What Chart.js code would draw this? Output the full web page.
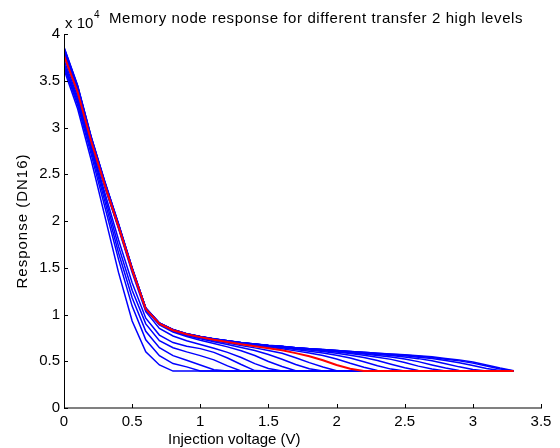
<!DOCTYPE html>
<html>
<head>
<meta charset="utf-8">
<script src="https://cdn.jsdelivr.net/npm/chart.js@4"></script>
<style>
  body { margin: 0; background: #fff; }
</style>
</head>
<body>
<canvas id="grafica" width="560" height="448"></canvas>
<script>
// injection voltage (V), same for every curve
const voltage = [0, 0.1, 0.2, 0.3, 0.4, 0.5, 0.6, 0.7, 0.8, 0.9,
  1.0, 1.1, 1.2, 1.3, 1.4, 1.5, 1.6, 1.7, 1.8, 1.9,
  2.0, 2.1, 2.2, 2.3, 2.4, 2.5, 2.6, 2.7, 2.8, 2.9,
  3.0, 3.1, 3.2, 3.3]

// response in DN16 (x 10^4), one array per transfer 2 high level
const resp01 = [3.62, 3.20, 2.65, 2.05, 1.45, 0.93, 0.60, 0.46, 0.395, 0.395,
  0.395, 0.395, 0.395, 0.395, 0.395, 0.395, 0.395, 0.395, 0.395, 0.395,
  0.395, 0.395, 0.395, 0.395, 0.395, 0.395, 0.395, 0.395, 0.395, 0.395,
  0.395, 0.395, 0.395, 0.395]
const resp02 = [3.65, 3.24, 2.71, 2.15, 1.59, 1.09, 0.73, 0.56, 0.475, 0.44,
  0.395, 0.395, 0.395, 0.395, 0.395, 0.395, 0.395, 0.395, 0.395, 0.395,
  0.395, 0.395, 0.395, 0.395, 0.395, 0.395, 0.395, 0.395, 0.395, 0.395,
  0.395, 0.395, 0.395, 0.395]
const resp03 = [3.67, 3.27, 2.75, 2.21, 1.66, 1.18, 0.82, 0.645, 0.56, 0.51,
  0.46, 0.41, 0.395, 0.395, 0.395, 0.395, 0.395, 0.395, 0.395, 0.395,
  0.395, 0.395, 0.395, 0.395, 0.395, 0.395, 0.395, 0.395, 0.395, 0.395,
  0.395, 0.395, 0.395, 0.395]
const resp04 = [3.69, 3.30, 2.78, 2.26, 1.73, 1.26, 0.90, 0.72, 0.645, 0.60,
  0.56, 0.515, 0.45, 0.395, 0.395, 0.395, 0.395, 0.395, 0.395, 0.395,
  0.395, 0.395, 0.395, 0.395, 0.395, 0.395, 0.395, 0.395, 0.395, 0.395,
  0.395, 0.395, 0.395, 0.395]
const resp05 = [3.72, 3.33, 2.80, 2.30, 1.80, 1.34, 0.96, 0.78, 0.70, 0.66,
  0.635, 0.595, 0.535, 0.465, 0.40, 0.395, 0.395, 0.395, 0.395, 0.395,
  0.395, 0.395, 0.395, 0.395, 0.395, 0.395, 0.395, 0.395, 0.395, 0.395,
  0.395, 0.395, 0.395, 0.395]
const resp06 = [3.76, 3.37, 2.83, 2.36, 1.92, 1.45, 1.03, 0.85, 0.77, 0.72,
  0.68, 0.64, 0.595, 0.54, 0.475, 0.422, 0.395, 0.395, 0.395, 0.395,
  0.395, 0.395, 0.395, 0.395, 0.395, 0.395, 0.395, 0.395, 0.395, 0.395,
  0.395, 0.395, 0.395, 0.395]
const resp07 = [3.78, 3.38, 2.84, 2.37, 1.93, 1.475, 1.049, 0.889, 0.813, 0.764,
  0.725, 0.690, 0.654, 0.612, 0.561, 0.497, 0.444, 0.399, 0.395, 0.395,
  0.395, 0.395, 0.395, 0.395, 0.395, 0.395, 0.395, 0.395, 0.395, 0.395,
  0.395, 0.395, 0.395, 0.395]
const resp08 = [3.787, 3.386, 2.847, 2.377, 1.937, 1.477, 1.056, 0.897, 0.825, 0.776,
  0.740, 0.709, 0.679, 0.648, 0.615, 0.573, 0.521, 0.465, 0.419, 0.395,
  0.395, 0.395, 0.395, 0.395, 0.395, 0.395, 0.395, 0.395, 0.395, 0.395,
  0.395, 0.395, 0.395, 0.395]
const resp09 = [3.794, 3.392, 2.852, 2.381, 1.940, 1.479, 1.057, 0.900, 0.832, 0.784,
  0.751, 0.720, 0.696, 0.668, 0.643, 0.615, 0.585, 0.538, 0.485, 0.438,
  0.399, 0.395, 0.395, 0.395, 0.395, 0.395, 0.395, 0.395, 0.395, 0.395,
  0.395, 0.395, 0.395, 0.395]
// the red one
const resp10 = [3.77, 3.38, 2.85, 2.38, 1.94, 1.48, 1.058, 0.901, 0.832, 0.788,
  0.758, 0.730, 0.706, 0.681, 0.660, 0.638, 0.617, 0.587, 0.554, 0.510,
  0.460, 0.420, 0.395, 0.395, 0.395, 0.395, 0.395, 0.395, 0.395, 0.395,
  0.395, 0.395, 0.395, 0.395]
const resp11 = [3.805, 3.401, 2.860, 2.388, 1.945, 1.482, 1.059, 0.902, 0.833, 0.789,
  0.759, 0.734, 0.712, 0.690, 0.670, 0.651, 0.634, 0.611, 0.589, 0.562,
  0.525, 0.478, 0.436, 0.401, 0.395, 0.395, 0.395, 0.395, 0.395, 0.395,
  0.395, 0.395, 0.395, 0.395]
const resp12 = [3.811, 3.407, 2.865, 2.392, 1.948, 1.485, 1.061, 0.903, 0.834, 0.789,
  0.760, 0.735, 0.715, 0.695, 0.677, 0.659, 0.644, 0.625, 0.608, 0.588,
  0.565, 0.535, 0.495, 0.452, 0.416, 0.395, 0.395, 0.395, 0.395, 0.395,
  0.395, 0.395, 0.395, 0.395]
const resp13 = [3.818, 3.413, 2.870, 2.396, 1.951, 1.487, 1.062, 0.904, 0.835, 0.790,
  0.761, 0.736, 0.716, 0.696, 0.682, 0.665, 0.652, 0.633, 0.619, 0.603,
  0.586, 0.565, 0.541, 0.508, 0.468, 0.431, 0.401, 0.395, 0.395, 0.395,
  0.395, 0.395, 0.395, 0.395]
const resp14 = [3.825, 3.419, 2.875, 2.400, 1.954, 1.489, 1.063, 0.905, 0.836, 0.791,
  0.761, 0.737, 0.717, 0.697, 0.682, 0.667, 0.657, 0.640, 0.627, 0.613,
  0.599, 0.583, 0.565, 0.544, 0.520, 0.486, 0.448, 0.416, 0.395, 0.395,
  0.395, 0.395, 0.395, 0.395]
const resp15 = [3.832, 3.426, 2.880, 2.404, 1.957, 1.491, 1.065, 0.906, 0.836, 0.792,
  0.762, 0.737, 0.717, 0.698, 0.683, 0.668, 0.658, 0.643, 0.631, 0.619,
  0.606, 0.592, 0.577, 0.561, 0.546, 0.525, 0.496, 0.460, 0.427, 0.401,
  0.395, 0.395, 0.395, 0.395]
const resp16 = [3.839, 3.432, 2.885, 2.408, 1.961, 1.493, 1.066, 0.907, 0.837, 0.793,
  0.763, 0.738, 0.718, 0.698, 0.683, 0.668, 0.658, 0.644, 0.634, 0.624,
  0.612, 0.600, 0.586, 0.573, 0.561, 0.546, 0.528, 0.506, 0.474, 0.440,
  0.413, 0.395, 0.395, 0.395]
const resp17 = [3.846, 3.438, 2.890, 2.412, 1.964, 1.496, 1.067, 0.908, 0.838, 0.793,
  0.764, 0.739, 0.719, 0.699, 0.684, 0.669, 0.659, 0.644, 0.634, 0.624,
  0.614, 0.604, 0.592, 0.580, 0.570, 0.559, 0.544, 0.529, 0.508, 0.485,
  0.455, 0.422, 0.402, 0.395]
const resp18 = [3.853, 3.444, 2.895, 2.416, 1.967, 1.498, 1.069, 0.909, 0.839, 0.794,
  0.764, 0.739, 0.719, 0.699, 0.684, 0.669, 0.659, 0.645, 0.635, 0.625,
  0.615, 0.605, 0.595, 0.585, 0.576, 0.566, 0.553, 0.541, 0.522, 0.504,
  0.480, 0.449, 0.418, 0.397]
const resp19 = [3.860, 3.450, 2.900, 2.420, 1.970, 1.500, 1.070, 0.910, 0.840, 0.795,
  0.765, 0.740, 0.720, 0.700, 0.685, 0.670, 0.660, 0.645, 0.635, 0.625,
  0.615, 0.605, 0.595, 0.585, 0.578, 0.570, 0.558, 0.547, 0.529, 0.513,
  0.491, 0.460, 0.427, 0.399]

// tick labels
const xTicks = [0, 0.5, 1, 1.5, 2, 2.5, 3, 3.5]
const yTicks = [0, 0.5, 1, 1.5, 2, 2.5, 3, 3.5, 4]

const curves = [resp01, resp02, resp03, resp04, resp05, resp06, resp07, resp08, resp09, resp10,
  resp11, resp12, resp13, resp14, resp15, resp16, resp17, resp18, resp19]
const redCurve = 9

const fuente = 'Liberation Sans, Arial, sans-serif'
const fontSize = 15

const datasets = curves.map((curve, i) => ({
  data: curve.map((v, j) => ({ x: voltage[j], y: v })),
  borderColor: i === redCurve ? '#ff0000' : '#0000ff',
  borderWidth: i === redCurve ? 2 : 1.5,
  pointRadius: 0,
  tension: 0,
  // red drawn on top of the blue ones
  order: i === redCurve ? 0 : 1,
}))

// matlab style axes, ticks and texts
const matlabLook = {
  id: 'matlabLook',
  afterDraw(chart) {
    const { ctx, chartArea: a, scales } = chart
    const x = scales.x
    const y = scales.y
    ctx.save()

    // bottom axis (grey, a bit thicker)
    ctx.strokeStyle = '#808080'
    ctx.lineWidth = 2
    ctx.beginPath()
    ctx.moveTo(a.left, a.bottom)
    ctx.lineTo(a.right + 1, a.bottom)
    ctx.stroke()

    // left axis
    ctx.strokeStyle = '#000'
    ctx.lineWidth = 1
    ctx.beginPath()
    ctx.moveTo(a.left + 0.5, a.top)
    ctx.lineTo(a.left + 0.5, a.bottom)
    ctx.stroke()

    // inward ticks
    ctx.beginPath()
    xTicks.forEach(v => {
      const px = Math.round(x.getPixelForValue(v)) + 0.5
      ctx.moveTo(px, a.bottom)
      ctx.lineTo(px, a.bottom - 4)
    })
    yTicks.forEach(v => {
      const py = Math.round(y.getPixelForValue(v)) + 0.5
      ctx.moveTo(a.left, py)
      ctx.lineTo(a.left + 4, py)
    })
    ctx.stroke()

    ctx.fillStyle = '#000'
    ctx.font = fontSize + 'px ' + fuente
    ctx.textBaseline = 'alphabetic'
    ctx.textAlign = 'left'

    // exponent
    ctx.fillText('x 10', 65, 28)
    ctx.font = '10px ' + fuente
    ctx.fillText('4', 94, 18)

    // title, a bit spread out like the original
    ctx.font = fontSize + 'px ' + fuente
    ctx.letterSpacing = '0.6px'
    ctx.fillText('Memory node response for different transfer 2 high levels', 109, 23)
    ctx.letterSpacing = '0px'

    // x label
    ctx.fillText('Injection voltage (V)', 168, 444)

    // y label
    ctx.translate(27, (a.top + a.bottom) / 2)
    ctx.rotate(-Math.PI / 2)
    ctx.textAlign = 'center'
    ctx.letterSpacing = '1px'
    ctx.fillText('Response (DN16)', 0, 0)

    ctx.restore()
  }
}

new Chart(document.getElementById('grafica'), {
  type: 'line',
  data: { datasets },
  options: {
    responsive: false,
    animation: false,
    layout: { padding: { top: 34, right: 19, bottom: 0, left: 0 } },
    plugins: {
      legend: { display: false },
      tooltip: { enabled: false },
    },
    scales: {
      x: {
        type: 'linear',
        min: 0,
        max: 3.5,
        afterBuildTicks: axis => { axis.ticks = xTicks.map(v => ({ value: v })) },
        afterFit: axis => { axis.height = 40 },
        grid: { display: false, drawTicks: false },
        border: { display: false },
        ticks: {
          color: '#000',
          font: { family: fuente, size: fontSize },
          padding: 5,
          maxRotation: 0,
          callback: v => String(v),
        },
      },
      y: {
        type: 'linear',
        min: 0,
        max: 4,
        afterBuildTicks: axis => { axis.ticks = yTicks.map(v => ({ value: v })) },
        afterFit: axis => { axis.width = 64 },
        grid: { display: false, drawTicks: false },
        border: { display: false },
        ticks: {
          color: '#000',
          font: { family: fuente, size: fontSize },
          padding: 4,
          callback: v => String(v),
        },
      },
    },
  },
  plugins: [matlabLook],
})
</script>
</body>
</html>
